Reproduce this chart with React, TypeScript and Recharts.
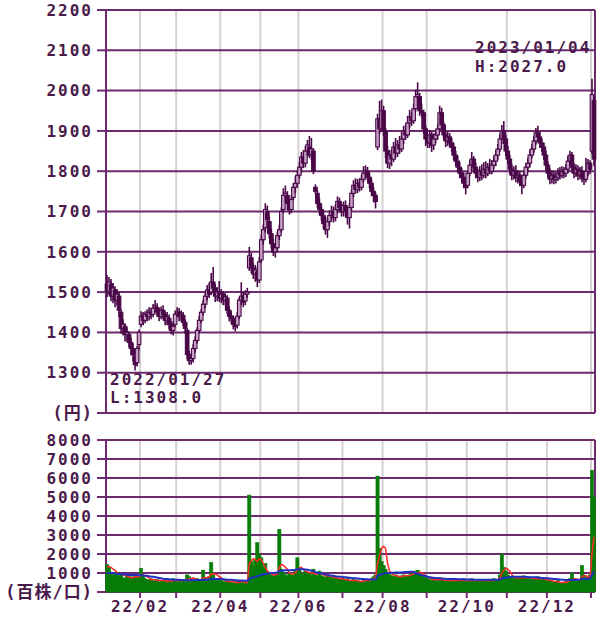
import React from 'react';
import { ComposedChart, Bar, Line, XAxis, YAxis, CartesianGrid } from 'recharts';

// trading days per month, 2022/01 .. 2023/01
const monthLabels = ['22/01', '22/02', '22/03', '22/04', '22/05', '22/06', '22/07', '22/08', '22/09', '22/10', '22/11', '22/12', '23/01'];
const monthDays = [17, 18, 22, 20, 19, 22, 20, 22, 20, 20, 20, 22, 2];

const open = [
  1520, 1500, 1520, 1490, 1505, 1480, 1490, 1450, 1410, 1415, 1395, 1395, 1375, 1360, 1340, 1325, 1370,
  1420, 1440, 1430, 1445, 1440, 1450, 1445, 1460, 1462, 1450, 1440, 1455, 1445, 1430, 1435, 1420, 1405, 1420,
  1445, 1450, 1440, 1442, 1425, 1405, 1345, 1330, 1335, 1360, 1380, 1405, 1430, 1450, 1470, 1490, 1505, 1500, 1525, 1510, 1490, 1500,
  1485, 1495, 1480, 1485, 1455, 1440, 1435, 1420, 1418, 1440, 1480, 1490, 1478, 1495, 1560, 1585, 1560, 1545, 1550, 1530,
  1580, 1630, 1660, 1700, 1675, 1645, 1620, 1600, 1610, 1640, 1655, 1705, 1740, 1740, 1720, 1705, 1735, 1760, 1770,
  1790, 1810, 1835, 1820, 1850, 1860, 1840, 1850, 1760, 1745, 1720, 1705, 1690, 1670, 1655, 1675, 1690, 1700, 1685, 1705, 1725, 1710,
  1700, 1715, 1700, 1685, 1710, 1745, 1765, 1755, 1770, 1760, 1780, 1795, 1800, 1785, 1770, 1750, 1740, 1860, 1930, 1905,
  1950, 1900, 1850, 1820, 1840, 1830, 1860, 1845, 1865, 1855, 1880, 1900, 1890, 1920, 1935, 1925, 1955, 1985, 1985, 1950, 1945, 1905,
  1880, 1870, 1890, 1865, 1880, 1890, 1905, 1945, 1915, 1890, 1875, 1885, 1870, 1860, 1840, 1825, 1810, 1795, 1785, 1770,
  1765, 1795, 1815, 1830, 1810, 1795, 1785, 1800, 1790, 1805, 1795, 1810, 1800, 1815, 1825, 1840, 1855, 1880, 1900, 1880,
  1850, 1830, 1805, 1790, 1800, 1785, 1790, 1775, 1765, 1790, 1810, 1820, 1840, 1855, 1875, 1895, 1885, 1870, 1860, 1840,
  1815, 1795, 1780, 1790, 1780, 1785, 1795, 1790, 1800, 1795, 1805, 1825, 1840, 1810, 1795, 1805, 1790, 1800, 1785, 1780, 1800, 1820,
  1850, 1975,
];
const high = [
  1540, 1535, 1530, 1520, 1512, 1505, 1498, 1455, 1430, 1420, 1410, 1400, 1385, 1370, 1350, 1365, 1405,
  1450, 1448, 1450, 1455, 1460, 1458, 1468, 1478, 1470, 1458, 1462, 1465, 1450, 1448, 1442, 1425, 1425, 1452,
  1460, 1458, 1452, 1448, 1430, 1408, 1352, 1345, 1368, 1388, 1410, 1438, 1455, 1478, 1495, 1515, 1520, 1545, 1560, 1518, 1510, 1525,
  1505, 1500, 1495, 1490, 1462, 1450, 1440, 1428, 1448, 1485, 1522, 1498, 1502, 1508, 1610, 1595, 1570, 1565, 1560, 1585,
  1640, 1665, 1718, 1712, 1685, 1655, 1630, 1618, 1648, 1665, 1708, 1755, 1762, 1748, 1728, 1738, 1768, 1785, 1800,
  1820, 1845, 1850, 1860, 1875, 1885, 1880, 1855, 1765, 1750, 1730, 1715, 1700, 1685, 1682, 1700, 1712, 1710, 1715, 1735, 1732, 1718,
  1722, 1725, 1708, 1718, 1752, 1775, 1780, 1778, 1780, 1788, 1810, 1812, 1808, 1792, 1778, 1758, 1745, 1940, 1972, 1975,
  1960, 1905, 1860, 1850, 1852, 1870, 1880, 1875, 1885, 1895, 1910, 1915, 1935, 1950, 1945, 1965, 2000, 2018, 1992, 1965, 1950, 1912,
  1890, 1900, 1895, 1892, 1900, 1915, 1960, 1955, 1920, 1898, 1895, 1892, 1880, 1868, 1848, 1835, 1820, 1805, 1795, 1778,
  1800, 1825, 1845, 1835, 1818, 1802, 1810, 1815, 1820, 1822, 1818, 1828, 1825, 1835, 1850, 1865, 1890, 1912, 1922, 1888,
  1860, 1838, 1815, 1810, 1812, 1800, 1798, 1782, 1798, 1818, 1830, 1850, 1865, 1885, 1905, 1910, 1895, 1878, 1868, 1848,
  1822, 1805, 1800, 1798, 1795, 1805, 1808, 1810, 1808, 1815, 1835, 1848, 1845, 1818, 1815, 1812, 1808, 1810, 1795, 1830, 1828, 1825,
  2027, 1985,
];
const low = [
  1490, 1495, 1480, 1475, 1465, 1470, 1440, 1400, 1395, 1380, 1380, 1365, 1345, 1330, 1308, 1318, 1360,
  1415, 1420, 1425, 1430, 1432, 1435, 1440, 1452, 1442, 1430, 1435, 1435, 1420, 1420, 1410, 1398, 1395, 1415,
  1440, 1430, 1430, 1418, 1400, 1335, 1322, 1322, 1328, 1352, 1375, 1400, 1425, 1445, 1462, 1482, 1488, 1495, 1500, 1478, 1480, 1478,
  1475, 1470, 1470, 1448, 1430, 1425, 1410, 1405, 1412, 1435, 1470, 1465, 1470, 1488, 1555, 1550, 1535, 1528, 1515, 1525,
  1575, 1620, 1650, 1660, 1635, 1610, 1592, 1588, 1602, 1632, 1650, 1698, 1725, 1705, 1695, 1698, 1730, 1748, 1762,
  1785, 1800, 1810, 1812, 1840, 1835, 1830, 1795, 1745, 1712, 1695, 1680, 1660, 1645, 1637, 1665, 1680, 1675, 1678, 1698, 1700, 1690,
  1690, 1690, 1670, 1660, 1705, 1738, 1748, 1748, 1752, 1755, 1775, 1785, 1778, 1760, 1740, 1725, 1710, 1855, 1895, 1900,
  1890, 1835, 1810, 1808, 1815, 1825, 1835, 1838, 1845, 1850, 1870, 1880, 1885, 1910, 1915, 1920, 1950, 1965, 1940, 1935, 1895, 1865,
  1860, 1860, 1850, 1855, 1872, 1880, 1900, 1905, 1880, 1862, 1865, 1860, 1850, 1830, 1815, 1800, 1785, 1775, 1760, 1745,
  1760, 1790, 1805, 1800, 1785, 1775, 1778, 1780, 1785, 1785, 1790, 1795, 1795, 1808, 1815, 1830, 1850, 1870, 1870, 1840,
  1820, 1795, 1780, 1782, 1775, 1772, 1765, 1745, 1760, 1785, 1800, 1812, 1835, 1848, 1868, 1875, 1860, 1850, 1830, 1805,
  1785, 1770, 1772, 1770, 1772, 1778, 1782, 1785, 1785, 1788, 1798, 1815, 1800, 1785, 1788, 1780, 1782, 1775, 1768, 1775, 1790, 1795,
  1845, 1815,
];
const close = [
  1500, 1525, 1490, 1510, 1480, 1495, 1455, 1410, 1420, 1395, 1400, 1375, 1360, 1345, 1320, 1360, 1400,
  1440, 1430, 1445, 1440, 1450, 1445, 1460, 1465, 1450, 1440, 1455, 1445, 1430, 1438, 1420, 1405, 1415, 1445,
  1450, 1440, 1445, 1425, 1410, 1345, 1330, 1335, 1360, 1380, 1405, 1430, 1450, 1470, 1490, 1505, 1495, 1525, 1510, 1490, 1500, 1485,
  1495, 1480, 1488, 1455, 1440, 1435, 1420, 1415, 1440, 1480, 1490, 1475, 1495, 1500, 1590, 1560, 1545, 1555, 1530, 1575,
  1630, 1655, 1705, 1680, 1645, 1620, 1600, 1610, 1640, 1655, 1700, 1740, 1745, 1720, 1705, 1730, 1760, 1770, 1790,
  1810, 1835, 1820, 1850, 1865, 1840, 1855, 1800, 1750, 1720, 1705, 1690, 1670, 1655, 1675, 1690, 1700, 1685, 1705, 1725, 1710, 1700,
  1715, 1700, 1685, 1710, 1745, 1765, 1755, 1770, 1760, 1780, 1795, 1800, 1785, 1770, 1750, 1740, 1725, 1930, 1905, 1950,
  1900, 1850, 1820, 1840, 1830, 1860, 1845, 1865, 1855, 1880, 1900, 1890, 1920, 1935, 1925, 1955, 1985, 1990, 1950, 1945, 1905, 1880,
  1870, 1890, 1865, 1880, 1890, 1905, 1945, 1915, 1890, 1875, 1885, 1870, 1860, 1840, 1825, 1810, 1795, 1785, 1770, 1760,
  1795, 1815, 1830, 1810, 1795, 1785, 1800, 1790, 1805, 1795, 1810, 1800, 1815, 1825, 1840, 1855, 1880, 1900, 1880, 1850,
  1830, 1805, 1790, 1800, 1785, 1790, 1775, 1765, 1790, 1810, 1820, 1840, 1855, 1875, 1895, 1885, 1870, 1860, 1840, 1815,
  1795, 1780, 1790, 1780, 1785, 1795, 1790, 1800, 1795, 1805, 1825, 1840, 1810, 1795, 1805, 1790, 1800, 1785, 1780, 1800, 1820, 1805,
  1990, 1830,
];

// volume in 百株
const volume = [
  1450, 1300, 1050, 850, 950, 1050, 800, 900, 750, 700, 850, 700, 800, 750, 900, 800, 700,
  1250, 900, 700, 650, 600, 700, 550, 600, 650, 500, 600, 550, 650, 500, 600, 550, 700, 600,
  550, 600, 500, 650, 600, 900, 800, 700, 650, 600, 700, 650, 600, 1150, 700, 650, 800, 1550, 900, 700, 650, 600,
  600, 550, 500, 600, 550, 500, 450, 500, 550, 600, 500, 450, 500, 550, 5100, 1600, 1400, 1700, 2600, 2000,
  1800, 1300, 1500, 1100, 900, 1000, 800, 900, 1000, 3300, 1200, 1000, 900, 800, 1000, 900, 850, 1100, 1800,
  1300, 1000, 900, 1100, 950, 1000, 850, 1200, 900, 800, 1100, 850, 800, 750, 900, 800, 700, 750, 800, 700, 650, 700,
  650, 600, 700, 550, 600, 650, 550, 600, 500, 550, 600, 650, 550, 600, 700, 800, 900, 6100, 2300, 1600,
  1400, 1200, 1000, 900, 850, 800, 900, 750, 800, 850, 900, 800, 850, 900, 950, 1100, 1000, 1150, 1000, 900, 800, 750,
  700, 650, 600, 700, 650, 600, 750, 650, 600, 550, 650, 600, 550, 600, 650, 550, 600, 650, 700, 600,
  650, 600, 700, 600, 550, 600, 650, 550, 600, 650, 600, 550, 650, 700, 600, 650, 900, 2000, 1300, 1100,
  900, 800, 700, 750, 800, 700, 750, 800, 850, 700, 750, 700, 650, 700, 750, 800, 700, 650, 700, 600,
  650, 600, 550, 500, 550, 600, 500, 450, 500, 550, 600, 700, 1000, 700, 600, 550, 650, 1400, 900, 700, 800, 900,
  6400, 5000,
];
const volShort = [
  1300, 1350, 1300, 1200, 1150, 1000, 950, 950, 900, 850, 850, 800, 750, 750, 800, 800, 800,
  900, 900, 850, 800, 750, 650, 650, 650, 600, 600, 600, 600, 600, 550, 600, 550, 600, 600,
  600, 600, 600, 600, 600, 650, 700, 700, 750, 700, 650, 650, 650, 750, 750, 750, 800, 950, 950, 950, 900, 800,
  750, 650, 600, 550, 550, 550, 550, 500, 500, 500, 550, 550, 500, 500, 1500, 1650, 1750, 1700, 1600, 1750,
  1700, 1500, 1300, 1100, 1000, 950, 900, 900, 950, 1300, 1450, 1400, 1300, 1200, 1000, 950, 950, 1000, 1150,
  1250, 1300, 1200, 1100, 1050, 1000, 1000, 1000, 950, 950, 1000, 950, 900, 850, 850, 850, 800, 800, 750, 750, 700, 700,
  700, 650, 650, 600, 600, 600, 600, 600, 550, 550, 550, 600, 600, 600, 650, 700, 750, 1500, 1900, 2300,
  2400, 2300, 1500, 1100, 950, 900, 850, 850, 800, 800, 850, 850, 850, 850, 900, 950, 1000, 1000, 1050, 1000, 950, 850,
  800, 750, 700, 650, 650, 650, 650, 650, 650, 600, 600, 600, 600, 600, 600, 600, 600, 600, 600, 600,
  600, 600, 600, 600, 600, 600, 600, 600, 600, 600, 600, 600, 600, 600, 650, 650, 700, 1000, 1150, 1250,
  1200, 1100, 900, 800, 750, 750, 750, 750, 750, 750, 750, 750, 750, 700, 700, 700, 700, 700, 700, 650,
  650, 600, 600, 550, 550, 550, 500, 500, 500, 500, 550, 600, 650, 700, 700, 650, 650, 800, 850, 850, 800, 750,
  2000, 2900,
];
const volLong = [
  1000, 1000, 1000, 1000, 980, 960, 950, 940, 930, 920, 910, 900, 900, 900, 900, 890, 880,
  880, 870, 860, 850, 830, 810, 800, 780, 760, 740, 720, 700, 690, 680, 670, 660, 650, 650,
  640, 640, 630, 630, 620, 620, 620, 620, 620, 620, 630, 630, 630, 650, 650, 650, 660, 680, 690, 690, 690, 690,
  680, 670, 660, 650, 650, 640, 630, 620, 610, 600, 600, 600, 590, 590, 700, 740, 770, 800, 830, 860,
  900, 920, 950, 970, 980, 1000, 1000, 1010, 1020, 1100, 1120, 1130, 1140, 1150, 1150, 1150, 1160, 1170, 1200,
  1200, 1200, 1200, 1190, 1170, 1150, 1120, 1100, 1050, 1000, 1000, 980, 950, 930, 900, 880, 860, 850, 830, 820, 800, 800,
  780, 770, 760, 750, 740, 730, 720, 710, 700, 690, 680, 670, 670, 660, 660, 660, 670, 850, 900, 930,
  960, 980, 1000, 1000, 1010, 1010, 1020, 1020, 1030, 1030, 1040, 1050, 1050, 1060, 1060, 1050, 1000, 960, 920, 880, 860, 840,
  800, 780, 760, 750, 740, 730, 720, 710, 700, 700, 690, 690, 680, 680, 680, 670, 670, 670, 660, 660,
  660, 660, 650, 650, 650, 650, 640, 640, 640, 640, 640, 640, 640, 650, 650, 650, 660, 720, 740, 760,
  780, 790, 800, 800, 800, 800, 800, 800, 800, 790, 790, 780, 780, 780, 770, 760, 750, 740, 740, 730,
  720, 710, 700, 690, 680, 670, 660, 650, 640, 630, 630, 630, 650, 650, 650, 650, 660, 700, 700, 700, 700, 700,
  900, 1100,
];

const priceTicks = [1200, 1300, 1400, 1500, 1600, 1700, 1800, 1900, 2000, 2100, 2200];
const volTicks = [0, 1000, 2000, 3000, 4000, 5000, 6000, 7000, 8000];
const lowDate = '2022/01/27';
const highDate = '2023/01/04';

const PURPLE = '#6e2a6e';
const GRAY = '#d4d0d4';
const DARK = '#4a0848';
const LIGHT = '#c4a2c4';
const GREEN = '#087c08';
const TEXT = '#4a1a4a';
const FONT = "'DejaVu Sans Mono', 'Noto Sans CJK JP', monospace";

const rows = close.map((c, i) => ({
  i,
  o: open[i],
  h: high[i],
  l: low[i],
  c,
  range: [low[i], high[i]],
  v: volume[i],
  ma5: volShort[i],
  ma25: volLong[i],
}));

const domain = [-0.5, close.length - 0.5];
const bounds: number[] = [];
let acc = 0;
monthDays.slice(0, -1).forEach((d) => {
  acc += d;
  bounds.push(acc - 0.5);
});
const boundLabel = new Map(bounds.map((b, k) => [b, (k + 1) % 2 === 1 ? monthLabels[k + 1] : '']));

const minLow = Math.min(...low);
const maxHigh = Math.max(...high);

const Candle = (p: any) => {
  const { x, y, width, height, payload } = p;
  const { o, c, h, l } = payload;
  const k = height / (h - l);
  const cx = x + width / 2;
  const yo = y + (h - o) * k;
  const yc = y + (h - c) * k;
  const top = Math.min(yo, yc);
  const bh = Math.max(1.5, Math.abs(yo - yc));
  return (
    <g>
      <line x1={cx} x2={cx} y1={y - 1} y2={y + height + 1} stroke={DARK} strokeWidth={1.6} />
      <rect x={cx - 1.8} y={top} width={3.6} height={bh} fill={c >= o ? LIGHT : DARK} stroke={DARK} strokeWidth={1.1} />
    </g>
  );
};

const VolBar = (p: any) => {
  const { x, y, width, height } = p;
  if (!height || height <= 0) return null;
  const cx = x + width / 2;
  return <rect x={cx - 1.6} y={y} width={3.2} height={height} fill={GREEN} stroke={GREEN} strokeWidth={0.6} />;
};

const yTick = (base: number, unit: string) => (props: any) => {
  const { x, y, payload } = props;
  const isBase = payload.value === base;
  return (
    <text x={x} y={y} dy="0.36em" textAnchor="end" fill={TEXT} fontFamily={FONT} fontWeight="bold"
      fontSize={isBase ? 17 : 16} letterSpacing={isBase ? 1 : 2}>
      {isBase ? unit : payload.value}
    </text>
  );
};

const XTick = (props: any) => {
  const { x, y, payload } = props;
  return (
    <text x={x} y={y} dy="0.71em" textAnchor="middle" fill={TEXT} fontFamily={FONT} fontWeight="bold"
      fontSize={16} letterSpacing={2}>
      {boundLabel.get(payload.value)}
    </text>
  );
};

const txt = { fill: TEXT, fontFamily: FONT, fontWeight: 'bold', fontSize: 16, letterSpacing: 2 } as const;

export default function App() {
  return (
    <div style={{ position: 'absolute', left: 0, top: 0, width: 600, height: 623, background: '#fff' }}>
      <div style={{ position: 'absolute', left: 0, top: 0 }}>
        <ComposedChart width={600} height={430} data={rows} margin={{ top: 10, right: 5, bottom: 17, left: 0 }}>
          <CartesianGrid horizontal={false} verticalValues={bounds} stroke={GRAY} strokeWidth={2} />
          <CartesianGrid vertical={false} stroke={PURPLE} strokeWidth={2} />
          <CartesianGrid horizontal={false} verticalValues={domain} stroke={PURPLE} strokeWidth={2} />
          <XAxis dataKey="i" type="number" domain={domain} hide />
          <YAxis type="number" domain={[1200, 2200]} ticks={priceTicks} width={106} axisLine={false}
            tickSize={9} tickMargin={4} stroke={PURPLE} tickLine={{ stroke: PURPLE, strokeWidth: 2 }}
            tick={yTick(1200, '(円)')} interval={0} />
          <Bar dataKey="range" barSize={2} shape={Candle} isAnimationActive={false} />
        </ComposedChart>
      </div>
      <div style={{ position: 'absolute', left: 0, top: 430 }}>
        <ComposedChart width={600} height={193} data={rows} margin={{ top: 10, right: 5, bottom: 0, left: 0 }}>
          <CartesianGrid horizontal={false} verticalValues={bounds} stroke={GRAY} strokeWidth={2} />
          <CartesianGrid vertical={false} stroke={PURPLE} strokeWidth={2} />
          <CartesianGrid horizontal={false} verticalValues={domain} stroke={PURPLE} strokeWidth={2} />
          <XAxis dataKey="i" type="number" domain={domain} ticks={bounds} interval={0} height={31}
            axisLine={false} tickSize={6} tickMargin={3} stroke={PURPLE}
            tickLine={{ stroke: PURPLE, strokeWidth: 2 }} tick={XTick} />
          <YAxis type="number" domain={[0, 8000]} ticks={volTicks} width={106} axisLine={false}
            tickSize={9} tickMargin={4} stroke={PURPLE} tickLine={{ stroke: PURPLE, strokeWidth: 2 }}
            tick={yTick(0, '(百株/口)')} interval={0} />
          <Bar dataKey="v" barSize={2} shape={VolBar} isAnimationActive={false} />
          <Line dataKey="ma5" type="linear" stroke="#ff2a2a" strokeWidth={1.5} dot={false} isAnimationActive={false} />
          <Line dataKey="ma25" type="linear" stroke="#1f2fc0" strokeWidth={2} dot={false} isAnimationActive={false} />
        </ComposedChart>
      </div>
      <svg width={600} height={623} style={{ position: 'absolute', left: 0, top: 0, pointerEvents: 'none' }}>
        <text x={110} y={385} {...txt}>{lowDate}</text>
        <text x={110} y={403} {...txt}>{`L:${minLow.toFixed(1)}`}</text>
        <text x={475} y={53} {...txt}>{highDate}</text>
        <text x={475} y={72} {...txt}>{`H:${maxHigh.toFixed(1)}`}</text>
      </svg>
    </div>
  );
}
